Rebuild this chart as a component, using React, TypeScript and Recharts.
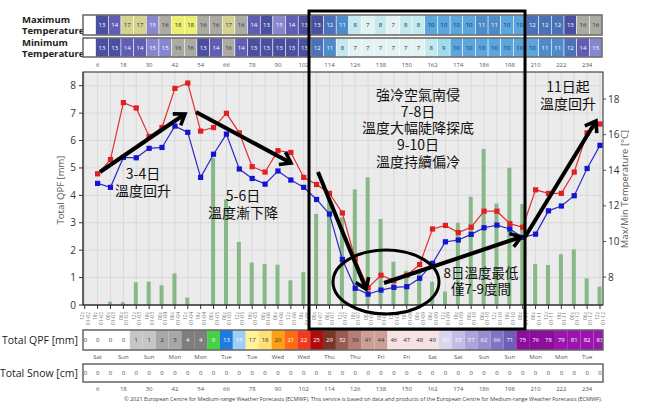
import React from 'react';
import { ComposedChart, Bar, Line, XAxis, YAxis, CartesianGrid } from 'recharts';

// forecast steps (hours)
const steps = [0, 6, 12, 18, 24, 30, 36, 42, 48, 54, 60, 66, 72, 78, 84, 90, 96, 102, 108, 114, 120, 126, 132, 138, 144, 150, 156, 162, 168, 174, 180, 186, 192, 198, 204, 210, 216, 222, 228, 234, 240];

// 6-hourly precipitation (mm)
const precip = [0, 0, 0.12, 0.1, 0.83, 0.85, 0.72, 1.15, 0.27, 0.03, 5.35, 3.85, 2.3, 1.55, 1.5, 1.47, 0.9, 1.2, 3.32, 3.9, 3.2, 4.22, 4.66, 3.14, 1.58, 1.25, 1.3, 0.85, 0.49, 3.0, 3.95, 5.69, 3.7, 5.01, 3.69, 1.5, 1.46, 1.85, 2.03, 0.97, 0.67];

// max / min temperature (°C)
const tMax = [null, 13.8, 14.6, 17.8, 17.5, 15.9, 16.4, 18.6, 18.9, 16.2, 16.4, 17.2, 16.1, 14.2, 13.9, 15.1, 15.0, 13.6, 13.2, 12.7, 11.6, 9.0, 7.4, 8.1, 7.8, 8.1, 8.7, 10.7, 10.9, 10.5, 10.8, 11.7, 11.7, 11.0, 10.8, 12.9, 12.7, 12.7, 13.9, 16.1, 16.6];
const tMin = [null, 13.26, 13.04, 14.72, 14.7, 15.23, 15.28, 16.48, 16.13, 13.6, 14.9, 16.03, 14.07, 13.54, 13.22, 13.96, 13.45, 13.04, 12.36, 11.54, 8.99, 7.37, 7.04, 7.27, 7.42, 7.46, 7.93, 8.77, 9.98, 10.08, 10.4, 10.77, 10.92, 10.7, 10.23, 10.41, 11.72, 11.99, 12.57, 14.1, 15.4];

// table rows (steps 6..240)
const maxCells = [13, 14, 17, 17, 15, 16, 18, 18, 16, 16, 17, 16, 14, 13, 15, 14, 13, 13, 12, 11, 8, 7, 8, 7, 8, 8, 10, 10, 10, 10, 11, 11, 10, 10, 12, 12, 12, 13, 16, 16];
const minCells = [13, 13, 14, 14, 15, 15, 16, 16, 13, 14, 16, 14, 13, 13, 13, 13, 13, 12, 11, 8, 7, 7, 7, 7, 7, 7, 8, 9, 10, 10, 10, 10, 10, 10, 10, 11, 11, 12, 14, 15];
const qpfTotal = [0, 0, 0, 0, 1, 1, 2, 3, 4, 4, 9, 13, 15, 17, 18, 20, 21, 22, 25, 29, 32, 36, 41, 44, 46, 47, 48, 49, 50, 53, 57, 62, 66, 71, 75, 76, 78, 79, 81, 82, 83];
const snowTotal = [0, 0, 0, 0, 0, 0, 0, 0, 0, 0, 0, 0, 0, 0, 0, 0, 0, 0, 0, 0, 0, 0, 0, 0, 0, 0, 0, 0, 0, 0, 0, 0, 0, 0, 0, 0, 0, 0, 0, 0, 0];

const tickDates = ['01-02', '01-02', '01-03', '01-03', '01-03', '01-03', '01-04', '01-04', '01-04', '01-04', '01-05', '01-05', '01-05', '01-05', '01-06', '01-06', '01-06', '01-06', '01-07', '01-07', '01-07', '01-07', '01-08', '01-08', '01-08', '01-08', '01-09', '01-09', '01-09', '01-09', '01-10', '01-10', '01-10', '01-10', '01-11', '01-11', '01-11', '01-11', '01-12', '01-12', '01-12'];
const tickHours = ['12z', '18z', '00z', '06z', '12z', '18z', '00z', '06z', '12z', '18z', '00z', '06z', '12z', '18z', '00z', '06z', '12z', '18z', '00z', '06z', '12z', '18z', '00z', '06z', '12z', '18z', '00z', '06z', '12z', '18z', '00z', '06z', '12z', '18z', '00z', '06z', '12z', '18z', '00z', '06z', '12z'];
const hourTicks = [6, 18, 30, 42, 54, 66, 78, 90, 102, 114, 126, 138, 150, 162, 174, 186, 198, 210, 222, 234];
const dayNames = ['Sat', 'Sun', 'Sun', 'Mon', 'Mon', 'Tue', 'Tue', 'Wed', 'Wed', 'Thu', 'Thu', 'Fri', 'Fri', 'Sat', 'Sat', 'Sun', 'Sun', 'Mon', 'Mon', 'Tue'];
const qpfTicks = [0, 1, 2, 3, 4, 5, 6, 7, 8];
const tempTicks = [8, 10, 12, 14, 16, 18];

const data = steps.map((s, i) => ({ step: s, precip: precip[i], tmax: tMax[i], tmin: tMin[i] }));

// layout
const PL = 83;
const PR = 603;
const PT = 72;
const PB = 305;
const X_DOMAIN: [number, number] = [-0.8, 241.4];
const xOf = (s: number) => PL + ((s - X_DOMAIN[0]) / (X_DOMAIN[1] - X_DOMAIN[0])) * (PR - PL);
const stepW = xOf(6) - xOf(0);

const tempColor = (v: number) => {
  const m: Record<number, string> = {
    7: '#e3f3f2', 8: '#c4e9ee', 9: '#a0dbea', 10: '#5ba6dc', 11: '#4d8bca', 12: '#4a72b8',
    13: '#4a4f9f', 14: '#5f5db4', 15: '#8786ce', 16: '#acaba2', 17: '#d4d48f', 18: '#eeee6f',
  };
  return m[v] || '#ffffff';
};
const tempText = (v: number) => (v >= 11 && v <= 15 ? '#ffffff' : '#1e2a50');

const qpfColor = (v: number) => {
  if (v < 0.5) return '#ffffff';
  if (v < 2) return '#c6c6c6';
  if (v < 4) return '#a8a8a8';
  if (v < 5) return '#7e7e7e';
  if (v < 10) return '#48d048';
  if (v < 15) return '#1f7be0';
  if (v < 17) return '#9ecff3';
  if (v < 18) return '#fff39a';
  if (v < 20) return '#ffdf78';
  if (v < 21) return '#ffa014';
  if (v < 22) return '#ff6a12';
  if (v < 25) return '#f03c1e';
  if (v < 29) return '#b00c0c';
  if (v < 32) return '#7a3428';
  if (v < 36) return '#9a5c52';
  if (v < 41) return '#b67e74';
  if (v < 46) return '#cc9f96';
  if (v < 50) return '#f5e2e2';
  if (v < 53) return '#d8d6ef';
  if (v < 57) return '#c2bde6';
  if (v < 62) return '#aca3db';
  if (v < 66) return '#978dcf';
  if (v < 71) return '#8273c6';
  if (v < 75) return '#6f5dbb';
  if (v < 79) return '#8c0c9e';
  return '#9c14ae';
};
const qpfText = (v: number) => {
  if (v >= 4 && v < 17) return '#ffffff';
  if (v >= 21 && v < 36) return '#ffffff';
  if (v >= 50) return '#ffffff';
  return '#333333';
};

const DateTick = (props: any) => {
  const { x, y, payload } = props;
  const i = steps.indexOf(payload.value);
  if (i < 0) return <g />;
  return (
    <text transform={`translate(${x},${y + 1}) rotate(-90)`} textAnchor="end" fontSize={5} fill="#777">
      <tspan x={0} dy={-0.5}>{tickHours[i]}</tspan>
      <tspan x={0} dy={5.5}>{tickDates[i]}</tspan>
    </text>
  );
};

const squareDot = (color: string) => (p: any) => {
  const k = `d-${color}-${p.index}`;
  if (p.cx == null || p.cy == null || p.value == null) return <g key={k} />;
  return <rect key={k} x={p.cx - 2.6} y={p.cy - 2.6} width={5.2} height={5.2} fill={color} />;
};

const TempRow = ({ y, h, cells }: { y: number; h: number; cells: number[] }) => {
  const cw = (PR - 1 - PL) / 41;
  return (
    <g>
      <rect x={PL} y={y} width={PR - 1 - PL} height={h} fill="#ffffff" />
      {cells.map((v, i) => (
        <g key={i}>
          <rect x={PL + cw * (i + 1)} y={y} width={cw} height={h} fill={tempColor(v)} stroke="#ffffff" strokeWidth={0.5} />
          <text x={PL + cw * (i + 1.5)} y={y + h / 2 + 2} fontSize={6} textAnchor="middle" fill={tempText(v)}>{v}</text>
        </g>
      ))}
      <rect x={PL} y={y} width={PR - 1 - PL} height={h} fill="none" stroke="#666" strokeWidth={1.5} />
    </g>
  );
};

const StepRow = ({ y, h, values, color, textColor }: { y: number; h: number; values: number[]; color: (v: number) => string; textColor: (v: number) => string }) => (
  <g>
    {values.map((v, i) => {
      const l = Math.max(PL, xOf(steps[i]) - stepW / 2);
      const r = Math.min(PR, xOf(steps[i]) + stepW / 2);
      return (
        <g key={i}>
          <rect x={l} y={y} width={r - l} height={h} fill={color(v)} />
          <text x={Math.max(xOf(steps[i]), PL + 2.5)} y={y + h / 2 + 2} fontSize={6} textAnchor="middle" fill={textColor(v)}>{v}</text>
        </g>
      );
    })}
    <rect x={PL} y={y} width={PR - PL} height={h} fill="none" stroke="#666" strokeWidth={1.5} />
  </g>
);

const Strips = () => (
  <svg width={656} height={414} style={{ position: 'absolute', left: 0, top: 0, pointerEvents: 'none' }}>
    <g fontFamily="'Open Sans', 'DejaVu Sans', sans-serif">
      <text x={22} y={23} fontSize={9.5} fontWeight={700} fill="#222">Maximum</text>
      <text x={22} y={34} fontSize={9.5} fontWeight={700} fill="#222">Temperature</text>
      <text x={22} y={46} fontSize={9.5} fontWeight={700} fill="#222">Minimum</text>
      <text x={22} y={57} fontSize={9.5} fontWeight={700} fill="#222">Temperature</text>
      <TempRow y={15} h={20} cells={maxCells} />
      <TempRow y={38} h={19} cells={minCells} />
      {hourTicks.map((s) => (
        <text key={`ht${s}`} x={xOf(s)} y={67} fontSize={6} textAnchor="middle" fill="#555">{s}</text>
      ))}

      <text x={78} y={344} fontSize={10.5} textAnchor="end" fill="#222">Total QPF [mm]</text>
      <StepRow y={330} h={20} values={qpfTotal} color={qpfColor} textColor={qpfText} />
      {hourTicks.map((s, i) => (
        <text key={`dn${s}`} x={xOf(s)} y={359} fontSize={6} textAnchor="middle" fill="#555">{dayNames[i]}</text>
      ))}
      <text x={78} y={377} fontSize={10.5} textAnchor="end" fill="#222">Total Snow [cm]</text>
      <StepRow y={364} h={18} values={snowTotal} color={() => '#ffffff'} textColor={() => '#444'} />
      {hourTicks.map((s) => (
        <text key={`hb${s}`} x={xOf(s)} y={391} fontSize={6} textAnchor="middle" fill="#555">{s}</text>
      ))}
      <text x={602} y={401} fontSize={5.6} textAnchor="end" fill="#444" textLength={478}>
        © 2021 European Centre for Medium-range Weather Forecasts (ECMWF). This service is based on data and products of the European Centre for Medium-range Weather Forecasts (ECMWF).
      </text>

      <text transform="translate(64,190) rotate(-90)" fontSize={9.5} textAnchor="middle" fill="#555">Total QPF  [mm]</text>
      <text transform="translate(628,189) rotate(-90)" fontSize={9.5} textAnchor="middle" fill="#555">Max/Min Temperature  [°C]</text>
      <rect x={PL} y={PT} width={PR - PL} height={PB - PT} fill="none" stroke="#333" strokeWidth={1} />
    </g>
  </svg>
);

const Notes = () => {
  const cjk = "'Noto Sans CJK TC', 'Noto Sans CJK SC', sans-serif";
  // one text block per note, lines as tspans
  const block = (x: number, y: number, lines: string[], fs = 14, gap = 16.5) => (
    <text key={`${lines[0]}${x}`} fontSize={fs} textAnchor="middle" fill="#111" fontFamily={cjk}>
      {lines.map((s, i) => (
        <tspan key={i} x={x} y={y + i * gap + fs * 0.36}>{s}</tspan>
      ))}
    </text>
  );
  const arrow = (x1: number, y1: number, x2: number, y2: number) => (
    <line key={`${x1}-${y1}`} x1={x1} y1={y1} x2={x2} y2={y2} stroke="#000" strokeWidth={4} markerEnd="url(#ah)" />
  );
  return (
    <svg width={656} height={414} style={{ position: 'absolute', left: 0, top: 0, pointerEvents: 'none' }}>
      <defs>
        <marker id="ah" markerUnits="userSpaceOnUse" markerWidth={18} markerHeight={18} viewBox="0 0 18 18" refX={13} refY={9} orient="auto">
          <path d="M3,2 L13,9 L3,16" fill="none" stroke="#000" strokeWidth={3.6} />
        </marker>
      </defs>
      <rect x={309} y={11} width={216} height={318} fill="none" stroke="#000" strokeWidth={3} />
      <ellipse cx={386} cy={282} rx={53} ry={32} fill="none" stroke="#000" strokeWidth={3} />
      {arrow(100, 172, 185, 114)}
      {arrow(196, 112, 291, 163)}
      {arrow(318, 172, 366, 289)}
      {arrow(384, 283, 521, 237)}
      {arrow(525, 237, 596, 121)}
      {block(143, 174, ['3-4日', '溫度回升'])}
      {block(243, 196, ['5-6日', '溫度漸下降'])}
      {block(418, 95, ['強冷空氣南侵', '7-8日', '溫度大幅陡降探底', '9-10日', '溫度持續偏冷'], 14, 16.7)}
      {block(568, 87, ['11日起', '溫度回升'])}
      {block(481, 273, ['8日溫度最低', '僅7-9度間'], 13.5, 16.5)}
    </svg>
  );
};

export default function App() {
  return (
    <div style={{ position: 'absolute', left: 0, top: 0, width: 656, height: 414, background: '#fff', fontFamily: "'Open Sans', 'DejaVu Sans', sans-serif", overflow: 'hidden' }}>
      <div style={{ position: 'absolute', left: 0, top: 0 }}>
        <ComposedChart width={656} height={340} data={data} margin={{ top: PT, right: 0, bottom: 0, left: 0 }}>
          <CartesianGrid yAxisId="qpf" stroke="#d4d4d4" fill="#ebebeb" strokeWidth={0.8} />
          <XAxis
            dataKey="step"
            type="number"
            domain={X_DOMAIN}
            ticks={steps}
            interval={0}
            height={35}
            tickSize={4}
            tickLine={{ stroke: '#333' }}
            axisLine={{ stroke: '#333' }}
            tick={(p: any) => <DateTick {...p} />}
            allowDataOverflow
          />
          <YAxis
            yAxisId="qpf"
            orientation="left"
            width={PL}
            domain={[0, 8.5]}
            ticks={qpfTicks}
            tickSize={4}
            tickMargin={3}
            tick={{ fontSize: 10, fill: '#333' }}
            tickLine={{ stroke: '#333' }}
            axisLine={{ stroke: '#333' }}
            allowDataOverflow
          />
          <YAxis
            yAxisId="t"
            orientation="right"
            width={656 - PR}
            domain={[6.43, 19.52]}
            ticks={tempTicks}
            tickSize={3}
            tickMargin={2}
            tick={{ fontSize: 10, fill: '#333' }}
            tickLine={{ stroke: '#555' }}
            axisLine={false}
            allowDataOverflow
          />
          <Bar yAxisId="qpf" dataKey="precip" fill="#88b888" barSize={4} isAnimationActive={false} />
          <Line
            yAxisId="t"
            dataKey="tmax"
            stroke="#e23030"
            strokeWidth={1.2}
            dot={squareDot('#e02020')}
            activeDot={false}
            isAnimationActive={false}
          />
          <Line
            yAxisId="t"
            dataKey="tmin"
            stroke="#2a2ac8"
            strokeWidth={1.2}
            dot={squareDot('#1414d0')}
            activeDot={false}
            isAnimationActive={false}
          />
        </ComposedChart>
      </div>
      <Strips />
      <Notes />
    </div>
  );
}
